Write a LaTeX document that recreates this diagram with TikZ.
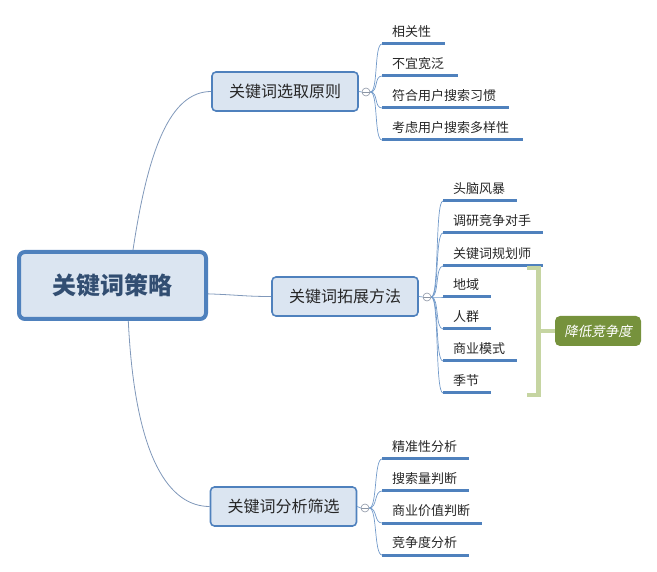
\documentclass[tikz,border=0pt]{standalone}
\usepackage{fontspec}
\setmainfont{Noto Sans CJK SC}
\newfontfamily\slantcjk[FakeSlant=0.2]{Noto Sans CJK SC}
\usepackage{tikz}
\usetikzlibrary{positioning}

\definecolor{mainblue}{RGB}{79,129,189}
\definecolor{lightblue}{RGB}{219,229,241}
\definecolor{rootblue}{RGB}{50,78,114}
\definecolor{textgray}{RGB}{38,38,38}
\definecolor{linkgray}{RGB}{128,152,186}
\definecolor{circgray}{RGB}{140,150,165}
\definecolor{bracegreen}{RGB}{198,213,162}
\definecolor{olivegreen}{RGB}{118,146,60}

\begin{document}
\begin{tikzpicture}[x=1pt, y=-1pt,
            root/.style={draw=mainblue, line width=4pt, fill=lightblue, rounded corners=6pt,
                minimum width=187pt, minimum height=67pt, text=rootblue,
                font=\fontsize{24}{28}\selectfont\bfseries},
            branch/.style={draw=mainblue, line width=1.6pt, fill=lightblue, rounded corners=4pt,
                minimum width=146pt, minimum height=39pt, text=textgray,
                font=\fontsize{16}{19}\selectfont},
            fold/.style={draw=circgray, fill=white, circle, minimum size=8pt, inner sep=0pt,
                line width=0.6pt,
                path picture={\draw[circgray, line width=0.5pt] (path picture bounding box.west) -- (path picture bounding box.east);}},
            leaf/.style={anchor=south west, inner xsep=10pt, inner ysep=4pt, text height=10pt,
                text depth=3pt, align=left, text=textgray, font=\fontsize{13}{15}\selectfont},
            bar/.style={draw=mainblue, line width=3pt},
            link/.style={draw=linkgray, line width=0.8pt},
            twig/.style={draw=mainblue!80, line width=0.7pt},
            brace/.style={draw=bracegreen, line width=4.5pt},
            summary/.style={fill=olivegreen, rounded corners=5pt, minimum width=86pt,
                minimum height=30pt, text=white, font=\fontsize{13.5}{16}\selectfont\slantcjk}
        ]
        \useasboundingbox (0,0) rectangle (657,572);

        % --- central topic ---
        \node[root] (R) at (112.5,285.5) {关键词策略};

        % --- main branches ---
        \node[branch] (B1) at (285,91.5) {关键词选取原则};
        \node[branch] (B2) at (345,296.5) {关键词拓展方法};
        \node[branch] (B3) at (283.5,506.5) {关键词分析筛选};
        \draw[link] (R.60) .. controls (148,150) and (170,91.5) .. (B1.west);
        \draw[link] (R.-5) .. controls (240,295) and (245,296.5) .. (B2.west);
        \draw[link] (R.-66) .. controls (135,460) and (170,506.5) .. (B3.west);

        % --- fold markers ---
        \node[fold] (F1) at (366,92) {};
        \node[fold] (F2) at (427,297) {};
        \node[fold] (F3) at (365,508) {};
        \draw[twig] (B1.east)--(F1.west);
        \draw[twig] (B2.east)--(F2.west);
        \draw[twig] (B3.east)--(F3.west);

        % --- (1) selection principles ---
        \node[leaf, text width=43pt] (L11) at (382,44) {相关性};
        \node[leaf, text width=56pt] (L12) at (382,76) {不宜宽泛};
        \node[leaf, text width=107pt] (L13) at (382,108) {符合用户搜索习惯};
        \node[leaf, text width=121pt] (L14) at (382,140) {考虑用户搜索多样性};
        \draw[bar] (L11.south west)--(L11.south east);
        \draw[bar] (L12.south west)--(L12.south east);
        \draw[bar] (L13.south west)--(L13.south east);
        \draw[bar] (L14.south west)--(L14.south east);
        \draw[twig] (F1.east) .. controls +(8,0) and +(-8,0) .. (L11.south west);
        \draw[twig] (F1.east) .. controls +(8,0) and +(-8,0) .. (L12.south west);
        \draw[twig] (F1.east) .. controls +(8,0) and +(-8,0) .. (L13.south west);
        \draw[twig] (F1.east) .. controls +(8,0) and +(-8,0) .. (L14.south west);

        % --- (2) expansion methods ---
        \node[leaf, text width=54pt] (L21) at (443,201) {头脑风暴};
        \node[leaf, text width=80pt] (L22) at (443,233) {调研竞争对手};
        \node[leaf, text width=80pt] (L23) at (443,266) {关键词规划师};
        \node[leaf, text width=28pt] (L24) at (443,297) {地域};
        \node[leaf, text width=28pt] (L25) at (443,329) {人群};
        \node[leaf, text width=54pt] (L26) at (443,361) {商业模式};
        \node[leaf, text width=28pt] (L27) at (443,393) {季节};
        \draw[bar] (L21.south west)--(L21.south east);
        \draw[bar] (L22.south west)--(L22.south east);
        \draw[bar] (L23.south west)--(L23.south east);
        \draw[bar] (L24.south west)--(L24.south east);
        \draw[bar] (L25.south west)--(L25.south east);
        \draw[bar] (L26.south west)--(L26.south east);
        \draw[bar] (L27.south west)--(L27.south east);
        \draw[twig] (F2.east) .. controls +(8,0) and +(-8,0) .. (L21.south west);
        \draw[twig] (F2.east) .. controls +(8,0) and +(-8,0) .. (L22.south west);
        \draw[twig] (F2.east) .. controls +(8,0) and +(-8,0) .. (L23.south west);
        \draw[twig] (F2.east) .. controls +(8,0) and +(-8,0) .. (L24.south west);
        \draw[twig] (F2.east) .. controls +(8,0) and +(-8,0) .. (L25.south west);
        \draw[twig] (F2.east) .. controls +(8,0) and +(-8,0) .. (L26.south west);
        \draw[twig] (F2.east) .. controls +(8,0) and +(-8,0) .. (L27.south west);

        % summary bracket over the last four
        \coordinate (S1) at (527,268);
        \coordinate (S2) at (527,395);
        \coordinate (SM) at (538.5,331);
        \node[summary] (S) at (598,331) {降低竞争度};
        \draw[brace] (S1) -| (SM) |- (S2);
        \draw[brace] (SM) -- (S.west);

        % --- (3) analysis and screening ---
        \node[leaf, text width=67pt] (L31) at (382,459) {精准性分析};
        \node[leaf, text width=67pt] (L32) at (382,491) {搜索量判断};
        \node[leaf, text width=80pt] (L33) at (382,523) {商业价值判断};
        \node[leaf, text width=67pt] (L34) at (382,555) {竞争度分析};
        \draw[bar] (L31.south west)--(L31.south east);
        \draw[bar] (L32.south west)--(L32.south east);
        \draw[bar] (L33.south west)--(L33.south east);
        \draw[bar] (L34.south west)--(L34.south east);
        \draw[twig] (F3.east) .. controls +(8,0) and +(-8,0) .. (L31.south west);
        \draw[twig] (F3.east) .. controls +(8,0) and +(-8,0) .. (L32.south west);
        \draw[twig] (F3.east) .. controls +(8,0) and +(-8,0) .. (L33.south west);
        \draw[twig] (F3.east) .. controls +(8,0) and +(-8,0) .. (L34.south west);
        \end{tikzpicture}
\end{document}
